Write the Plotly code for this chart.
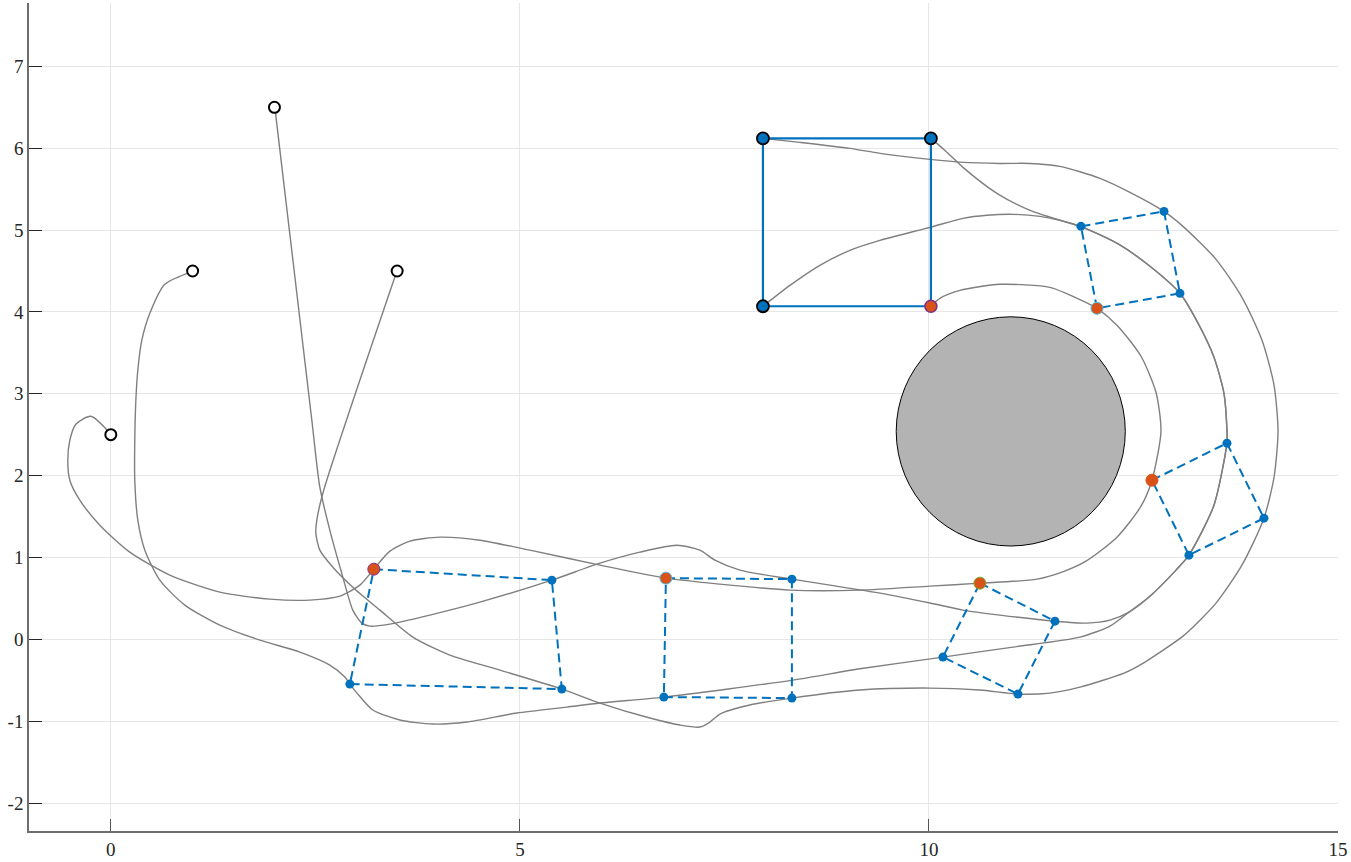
import plotly.graph_objects as go

# start positions of the four robots (open circles)
start_x = [0.0, 1.0, 2.0, 3.5]
start_y = [2.5, 4.5, 6.5, 4.5]

# trajectories (leader + three followers)
leader_x = [0.0, -0.244, -0.428, -0.501, -0.526, -0.501, -0.379, -0.134, 0.232, 0.721, 1.333, 1.944,
            2.433, 2.800, 3.044, 3.215, 3.411, 3.655, 4.022, 4.511, 5.122, 5.978, 6.785, 7.445, 8.301,
            9.156, 10.012, 10.623, 11.320, 11.626, 11.919, 12.298, 12.592, 12.726, 12.836, 12.775,
            12.592, 12.298, 12.054, 11.785, 11.479, 10.868, 10.379, 10.134, 10.024]
leader_y = [2.505, 2.725, 2.628, 2.432, 2.188, 1.944, 1.700, 1.394, 1.065, 0.784, 0.576, 0.491,
            0.479, 0.527, 0.662, 0.857, 1.077, 1.199, 1.248, 1.211, 1.089, 0.906, 0.747, 0.674, 0.601,
            0.601, 0.650, 0.686, 0.735, 0.821, 0.955, 1.248, 1.626, 1.944, 2.542, 3.018,
            3.458, 3.837, 4.044, 4.178, 4.300, 4.337, 4.263, 4.166, 4.069]

ll_x = [1.002, 0.660, 0.477, 0.379, 0.330, 0.306, 0.293, 0.293, 0.330, 0.416, 0.599, 0.905,
        1.333, 1.822, 2.311, 2.677, 2.861, 2.922, 3.007, 3.203, 3.533, 3.936, 4.352, 4.963, 5.575,
        5.978, 6.760, 8.337, 9.156, 10.171, 11.027, 11.846, 12.213, 12.445, 12.702, 13.020,
        13.178, 13.484, 13.643, 13.643, 13.606, 13.484, 13.289, 13.068, 12.702, 12.323, 11.907,
        11.809, 11.235, 10.831, 10.416, 10.196, 10.024]
ll_y = [4.496, 4.337, 3.983, 3.654, 3.287, 2.921, 2.432, 1.944, 1.455, 1.089, 0.723, 0.418,
        0.173, -0.010, -0.156, -0.315, -0.461, -0.547, -0.654, -0.864, -0.986, -1.035, -1.011, -0.901,
        -0.828, -0.779, -0.706, -0.498, -0.360, -0.217, -0.095, 0.027, 0.161, 0.332, 0.527,
        0.845, 1.028, 1.639, 2.408, 2.542, 3.006, 3.446, 3.862, 4.227, 4.557, 4.825, 5.021,
        5.057, 5.241, 5.448, 5.766, 5.973, 6.120]

ur_x = [2.005, 2.457, 2.555, 2.677, 2.836, 2.958, 3.068, 3.166, 3.411, 3.900, 4.511, 5.391, 5.978,
        6.467, 6.919, 7.200, 7.384, 7.689, 8.325, 8.790, 9.401, 10.012, 10.416, 10.868, 11.540,
        11.932, 12.213, 12.445, 12.702, 13.020, 13.178, 13.484, 13.643, 13.643, 13.606, 13.484,
        13.289, 13.068, 12.702, 12.323, 11.858, 11.601, 11.357, 11.027, 10.709, 10.416, 10.012,
        9.401, 9.034, 8.667, 8.301, 7.971]
ur_y = [6.498, 2.676, 1.858, 1.333, 0.760, 0.357, 0.198, 0.161, 0.186, 0.296, 0.454, 0.723, 0.930,
        1.065, 1.150, 1.089, 0.967, 0.845, 0.735, 0.662, 0.564, 0.444, 0.357, 0.296, 0.222,
        0.198, 0.234, 0.332, 0.527, 0.845, 1.028, 1.639, 2.396, 2.542, 3.006, 3.446,
        3.862, 4.227, 4.557, 4.825, 5.045, 5.118, 5.167, 5.192, 5.180, 5.143, 5.033,
        4.874, 4.752, 4.569, 4.324, 4.069]

lr_x = [3.496, 2.592, 2.518, 2.506, 2.555, 2.714, 2.958, 3.289, 3.692, 4.144, 4.756, 5.513, 5.978,
        6.589, 6.956, 7.200, 7.323, 7.445, 7.812, 8.325, 9.156, 10.012, 10.623, 11.088, 11.479,
        11.846, 12.384, 12.641, 13.105, 13.313, 13.509, 13.826, 14.095, 14.218, 14.267, 14.218,
        14.071, 13.826, 13.509, 13.105, 12.873, 12.457, 12.090, 11.601, 11.235, 10.868, 10.416,
        10.012, 9.401, 9.034, 8.423, 7.971]
lr_y = [4.496, 1.785, 1.455, 1.297, 1.089, 0.881, 0.637, 0.357, 0.027, -0.193, -0.376, -0.608, -0.779,
        -0.962, -1.047, -1.072, -1.011, -0.913, -0.803, -0.718, -0.620, -0.596, -0.620, -0.669, -0.657,
        -0.584, -0.413, -0.278, 0.039, 0.234, 0.442, 0.906, 1.480, 1.980, 2.542, 3.104,
        3.654, 4.178, 4.642, 5.045, 5.228, 5.461, 5.632, 5.778, 5.814, 5.814, 5.827,
        5.863, 5.937, 5.998, 6.071, 6.120]

# formation snapshots: leader, upper-right, lower-right, lower-left
snap_leader_x = [3.215, 6.785, 10.623, 12.726, 12.054]
snap_leader_y = [0.857, 0.747, 0.686, 1.944, 4.044]
snap_ur_x = [5.391, 8.325, 11.540, 13.643, 11.858]
snap_ur_y = [0.723, 0.735, 0.222, 2.396, 5.045]
snap_lr_x = [5.513, 8.325, 11.088, 14.095, 12.873]
snap_lr_y = [-0.608, -0.718, -0.669, 1.480, 5.228]
snap_ll_x = [2.922, 6.760, 10.171, 13.178, 13.068]
snap_ll_y = [-0.547, -0.706, -0.217, 1.028, 4.227]
snap_edge = ["#7E2F8E", "#4DBEEE", "#77AC30", "#D95319", "#4DBEEE"]

# final formation
final_x = [10.024, 7.971, 7.971, 10.024]
final_y = [4.069, 4.069, 6.120, 6.120]

# obstacle
obstacle_cx, obstacle_cy, obstacle_r = 11.0, 2.54, 1.4

x_ticks = [0, 5, 10, 15]
y_ticks = [-2, -1, 0, 1, 2, 3, 4, 5, 6, 7]
y_ticktext = ["-2", "-1", "0", "1", "2", "3", "4", "5", "6", "7"]

BLUE = "#0072BD"
ORANGE = "#D95319"
GRAY = "#7f7f7f"

fig = go.Figure()

for px, py in [(leader_x, leader_y), (ll_x, ll_y), (ur_x, ur_y), (lr_x, lr_y)]:
    fig.add_trace(go.Scatter(x=px, y=py, mode="lines",
                             line=dict(color=GRAY, width=1.4, shape="spline", smoothing=0.7),
                             hoverinfo="skip", showlegend=False))

# dashed snapshots
for i in range(len(snap_leader_x)):
    fig.add_trace(go.Scatter(
        x=[snap_leader_x[i], snap_ur_x[i], snap_lr_x[i], snap_ll_x[i], snap_leader_x[i]],
        y=[snap_leader_y[i], snap_ur_y[i], snap_lr_y[i], snap_ll_y[i], snap_leader_y[i]],
        mode="lines", line=dict(color=BLUE, width=2, dash="9px,5px"),
        showlegend=False))
    fig.add_trace(go.Scatter(
        x=[snap_ur_x[i], snap_lr_x[i], snap_ll_x[i]],
        y=[snap_ur_y[i], snap_lr_y[i], snap_ll_y[i]],
        mode="markers", marker=dict(color=BLUE, size=9, line=dict(width=0)),
        showlegend=False))
    fig.add_trace(go.Scatter(
        x=[snap_leader_x[i]], y=[snap_leader_y[i]], mode="markers",
        marker=dict(color=ORANGE, size=12, line=dict(color=snap_edge[i], width=1)),
        showlegend=False))

# final square
fig.add_trace(go.Scatter(x=final_x + final_x[:1], y=final_y + final_y[:1], mode="lines",
                         line=dict(color=BLUE, width=2.2), showlegend=False))
fig.add_trace(go.Scatter(x=final_x[1:], y=final_y[1:], mode="markers",
                         marker=dict(color=BLUE, size=12, line=dict(color="black", width=1.8)),
                         showlegend=False))
fig.add_trace(go.Scatter(x=final_x[:1], y=final_y[:1], mode="markers",
                         marker=dict(color=ORANGE, size=12, line=dict(color="#7E2F8E", width=1.5)),
                         showlegend=False))

# start points
fig.add_trace(go.Scatter(x=start_x, y=start_y, mode="markers",
                         marker=dict(color="white", size=11, line=dict(color="black", width=2)),
                         showlegend=False))

fig.add_shape(type="circle", xref="x", yref="y",
              x0=obstacle_cx - obstacle_r, x1=obstacle_cx + obstacle_r,
              y0=obstacle_cy - obstacle_r, y1=obstacle_cy + obstacle_r,
              fillcolor="#b3b3b3", line=dict(color="black", width=1))

fig.update_layout(
    width=1351, height=862,
    font=dict(family="Liberation Serif", size=19, color="#262626"),
    paper_bgcolor="white", plot_bgcolor="white",
    margin=dict(l=29, r=13, t=3, b=31, autoexpand=False),
    hovermode=False,
    xaxis=dict(range=[-1, 15], tickvals=x_ticks, showgrid=True, gridcolor="#e6e6e6",
               zeroline=False, showline=True, linecolor="#6e6e6e", linewidth=1.5,
               ticks="inside", ticklen=12, tickcolor="#555", automargin=False),
    yaxis=dict(range=[-2.342, 7.774], tickvals=y_ticks, ticktext=y_ticktext, showgrid=True,
               gridcolor="#e6e6e6", zeroline=False, showline=True, linecolor="#6e6e6e",
               linewidth=1.5, ticks="inside", ticklen=13, tickcolor="#262626",
               automargin=False),
)

fig.write_html("out.html", config={"displayModeBar": False},
               post_script="document.body.style.margin='0';")
